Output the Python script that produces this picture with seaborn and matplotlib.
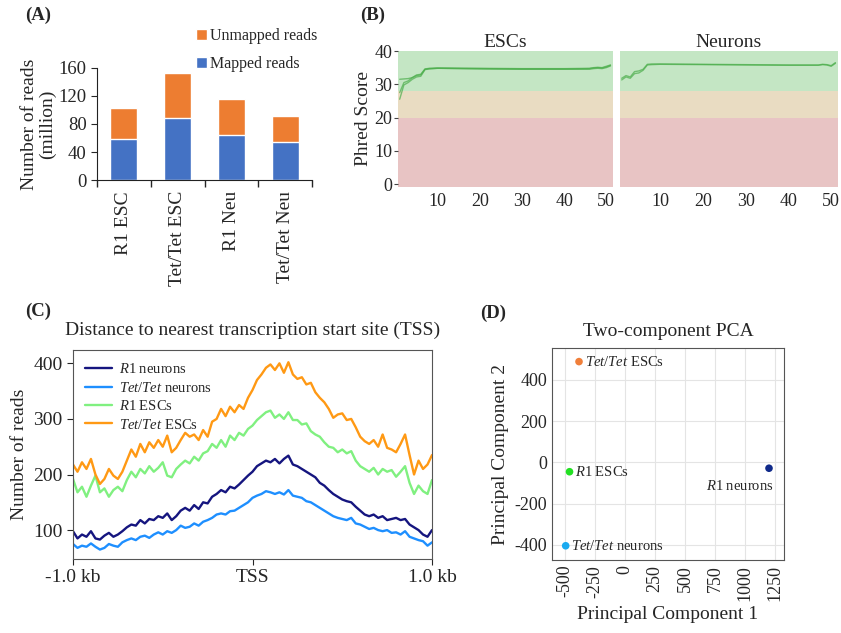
import numpy as np
import pandas as pd
import matplotlib
matplotlib.use("Agg")
import matplotlib.pyplot as plt
import seaborn as sns

sns.set_style("ticks")
plt.rcParams['font.family'] = ['Liberation Serif', 'DejaVu Serif']
plt.rcParams['mathtext.fontset'] = 'custom'
plt.rcParams['mathtext.it'] = 'Liberation Serif:italic'
plt.rcParams['mathtext.rm'] = 'Liberation Serif'
plt.rcParams['axes.unicode_minus'] = False

# ---- (A) read counts ----
samples = ["R1 ESC", "Tet/Tet ESC", "R1 Neu", "Tet/Tet Neu"]
total_reads = [103, 153, 116, 92]
mapped_reads = [59, 88, 65, 54]

# ---- (B) per-base quality ----
qpos = [1, 2, 3, 4, 5, 6, 7, 8, 10, 20, 30, 40, 46, 47, 48, 49, 50, 51]
esc_q1 = [31.5, 31.6, 31.7, 32.0, 32.6, 32.8, 34.5, 34.7, 34.8, 34.7, 34.6, 34.6, 34.7, 34.9, 35.0, 34.9, 35.2, 35.7]
esc_q2 = [25.5, 29.8, 30.5, 31.5, 32.2, 32.4, 34.4, 34.6, 34.8, 34.6, 34.5, 34.5, 34.5, 34.7, 34.8, 34.7, 35.0, 35.5]
esc_q3 = [27.5, 30.5, 31.0, 32.0, 32.8, 33.0, 34.6, 34.8, 34.9, 34.8, 34.7, 34.7, 34.8, 35.0, 35.1, 35.0, 35.4, 35.8]
neu_q1 = [31.8, 32.6, 32.2, 33.8, 34.0, 34.5, 36.0, 36.1, 36.1, 36.0, 35.9, 35.8, 35.8, 35.8, 36.0, 35.9, 35.6, 36.5]
neu_q2 = [31.3, 32.2, 31.8, 33.2, 33.4, 34.2, 35.8, 35.9, 36.0, 35.9, 35.8, 35.7, 35.7, 35.7, 35.9, 35.8, 35.4, 36.3]

# ---- (C) TSS profile ----
tss_bins = np.arange(-1000, 1001, 25)
tet_esc = [218, 205, 222, 210, 228, 200, 183, 192, 210, 198, 192, 205, 225, 245, 232, 255, 240, 258, 248, 262,
           250, 270, 240, 248, 262, 275, 268, 272, 262, 280, 268, 295, 300, 318, 305, 322, 312, 325, 318, 338,
           352, 370, 380, 392, 398, 388, 400, 383, 402, 380, 372, 375, 362, 365, 348, 338, 330, 318, 302, 308,
           310, 298, 300, 285, 268, 260, 255, 262, 250, 272, 248, 245, 240, 255, 272, 235, 200, 225, 210, 218, 235]
r1_esc = [192, 168, 178, 160, 180, 198, 168, 175, 160, 172, 178, 170, 190, 205, 195, 210, 202, 215, 205, 212,
          222, 198, 195, 210, 218, 225, 220, 232, 225, 238, 242, 255, 248, 262, 250, 270, 262, 275, 270, 282,
          288, 298, 305, 312, 315, 302, 308, 300, 312, 298, 298, 290, 292, 278, 272, 268, 258, 250, 248, 240,
          245, 238, 242, 225, 215, 210, 205, 212, 200, 210, 205, 208, 196, 205, 215, 185, 165, 180, 170, 165, 190]
r1_neu = [98, 85, 92, 88, 98, 85, 83, 90, 95, 88, 92, 98, 105, 110, 108, 118, 112, 120, 118, 125,
          122, 130, 118, 125, 135, 140, 135, 145, 138, 150, 148, 160, 165, 172, 168, 178, 175, 182, 190, 198,
          205, 215, 220, 225, 222, 228, 220, 228, 234, 218, 215, 210, 205, 200, 195, 185, 180, 172, 165, 160,
          155, 152, 150, 142, 135, 128, 125, 128, 122, 125, 118, 120, 122, 118, 120, 110, 105, 100, 92, 88, 100]
tet_neu = [75, 68, 72, 70, 76, 70, 65, 68, 75, 72, 70, 78, 82, 85, 82, 88, 90, 86, 92, 96,
           92, 98, 95, 100, 108, 104, 106, 112, 108, 115, 118, 122, 128, 130, 128, 134, 135, 140, 145, 150,
           158, 162, 165, 170, 168, 165, 168, 164, 172, 162, 160, 158, 152, 150, 145, 140, 135, 130, 125, 122,
           120, 118, 122, 112, 110, 106, 102, 104, 100, 98, 100, 95, 96, 92, 98, 88, 85, 82, 80, 72, 78]

# ---- (D) PCA ----
pca_labels = ["$\\mathit{Tet/Tet}$ ESCs", "$\\mathit{R1}$ ESCs", "$\\mathit{Tet/Tet}$ neurons", "$\\mathit{R1}$ neurons"]
pc1 = [-383, -462, -494, 1200]
pc2 = [489, -45, -404, -28]

W, H = 841, 633
fig = plt.figure(figsize=(W / 100, H / 100), dpi=100)


def box(l, t, r, b):
    return fig.add_axes([l / W, 1 - b / H, (r - l) / W, (b - t) / H])


# ================= (A) =================
axA = box(97, 68, 312, 180)
dfA = pd.DataFrame({"sample": samples, "total": total_reads, "mapped": mapped_reads})
sns.barplot(data=dfA, x="sample", y="total", color="#ED7D31", width=0.5, saturation=1,
            ax=axA, label="Unmapped reads")
sns.barplot(data=dfA, x="sample", y="mapped", color="#4472C4", width=0.5, saturation=1,
            ax=axA, label="Mapped reads")
axA.set_ylim(0, 160)
axA.set_xlim(-0.5, 3.5)
axA.set_yticks([0, 40, 80, 120, 160])
axA.set_xlabel("")
axA.set_ylabel("Number of reads\n(million)", fontsize=14, linespacing=1.0, labelpad=2)
axA.tick_params(axis="x", which="major", length=0, labelsize=14, rotation=90, pad=8)
axA.set_xticks([-0.5, 0.5, 1.5, 2.5, 3.5], minor=True)
axA.tick_params(axis="x", which="minor", length=5, width=1)
axA.tick_params(axis="y", labelsize=13.5, length=4)
sns.despine(ax=axA)
for s in ["left", "bottom"]:
    axA.spines[s].set_color("#222222")
h, l = axA.get_legend_handles_labels()
axA.legend(h, l, loc="lower left", bbox_to_anchor=(0.43, 0.91), frameon=False, fontsize=11.5,
           handlelength=0.7, handleheight=0.7, handletextpad=0.2, labelspacing=0.75,
           borderaxespad=0)
fig.text(25 / W, 1 - 15 / H, "(A)", fontsize=13.5, fontweight="bold", va="center")

# ================= (B) =================
bands = [(-5, 20, "#e8c4c4"), (20, 28, "#e9dcc2"), (28, 40, "#c4e6c4")]


def quality_panel(ax, curves, title, show_y):
    for lo, hi, c in bands:
        ax.axhspan(lo, hi, color=c, lw=0, zorder=0)
    frames = []
    for i, q in enumerate(curves):
        frames.append(pd.DataFrame({"pos": qpos, "q": q, "run": i}))
    d = pd.concat(frames)
    sns.lineplot(data=d, x="pos", y="q", units="run", estimator=None, color="#4cae4c",
                 alpha=0.7, lw=1.0, ax=ax)
    ax.set_xlim(0.6, 51.6)
    ax.set_ylim(-0.9, 40)
    ax.set_xticks([10, 20, 30, 40, 50])
    ax.set_yticks([0, 10, 20, 30, 40])
    ax.set_xlabel("")
    ax.set_ylabel("Phred Score" if show_y else "", fontsize=14, labelpad=2)
    for s in ax.spines.values():
        s.set_visible(False)
    ax.tick_params(axis="x", length=0, labelsize=13, pad=4)
    ax.tick_params(axis="y", length=3, color="#444444", labelsize=13, pad=1)
    if not show_y:
        ax.tick_params(axis="y", left=False, labelleft=False)
    ax.set_title(title, fontsize=14, pad=3)


axB1 = box(398, 51, 613, 187)
quality_panel(axB1, [esc_q1, esc_q2, esc_q3], "ESCs", True)
axB2 = box(620, 51, 838, 187)
quality_panel(axB2, [neu_q1, neu_q2], "Neurons", False)
fig.text(360 / W, 1 - 15 / H, "(B)", fontsize=13.5, fontweight="bold", va="center")

# ================= (C) =================
axC = box(73, 350, 432, 559)
dfC = pd.DataFrame({
    "pos": np.tile(tss_bins, 4),
    "reads": r1_neu + tet_neu + r1_esc + tet_esc,
    "group": ["$\\mathit{R1}$ neurons"] * len(tss_bins) + ["$\\mathit{Tet/Tet}$ neurons"] * len(tss_bins)
             + ["$\\mathit{R1}$ ESCs"] * len(tss_bins) + ["$\\mathit{Tet/Tet}$ ESCs"] * len(tss_bins),
})
sns.lineplot(data=dfC, x="pos", y="reads", hue="group", lw=1.7, ax=axC,
             palette=["#15157f", "#1e8fff", "#80f080", "#ff9914"])
axC.set_xlim(-1000, 1000)
axC.set_ylim(48, 424)
axC.set_xticks([-1000, 0, 1000])
axC.set_xticklabels(["-1.0 kb", "TSS", "1.0 kb"])
axC.set_yticks([100, 200, 300, 400])
axC.set_xlabel("")
axC.set_ylabel("Number of reads", fontsize=14)
axC.tick_params(labelsize=14, length=4)
for s in axC.spines.values():
    s.set_color("#555555")
axC.legend(loc="upper left", frameon=False, fontsize=10.5, handlelength=1.8,
           labelspacing=0.3, borderaxespad=0.45, handletextpad=0.5)
axC.set_title("Distance to nearest transcription start site (TSS)", fontsize=14, pad=11)
fig.text(25 / W, 1 - 311 / H, "(C)", fontsize=13.5, fontweight="bold", va="center")

# ================= (D) =================
axD = box(552, 348, 784, 560)
dfD = pd.DataFrame({"pc1": pc1, "pc2": pc2, "lab": pca_labels})
sns.scatterplot(data=dfD, x="pc1", y="pc2", hue="lab", s=30, edgecolor="none", legend=False,
                palette=["#f07f3a", "#22e022", "#1aaaf0", "#102a8a"], ax=axD, zorder=3)
offsets = [(4, 0, "left", "center"), (4, 0, "left", "center"), (4, 0, "left", "center"),
           (-21, -13, "center", "center")]
for x, y, t, (dx, dy, ha, va) in zip(pc1, pc2, pca_labels, offsets):
    axD.annotate(t, (x, y), xytext=(dx, dy), textcoords="offset points", ha=ha, va=va, fontsize=10.5)
axD.set_xlim(-608, 1325)
axD.set_ylim(-473, 555)
axD.set_xticks([-500, -250, 0, 250, 500, 750, 1000, 1250])
axD.set_yticks([-400, -200, 0, 200, 400])
axD.grid(True, color="#e4e4e4", lw=0.8)
axD.set_axisbelow(True)
axD.tick_params(axis="x", rotation=90, length=0, labelsize=13)
axD.tick_params(axis="y", length=0, labelsize=13)
for s in axD.spines.values():
    s.set_color("#555555")
axD.set_xlabel("Principal Component 1", fontsize=14)
axD.set_ylabel("Principal Component 2", fontsize=14)
axD.set_title("Two-component PCA", fontsize=14, pad=9)
fig.text(480 / W, 1 - 313 / H, "(D)", fontsize=13.5, fontweight="bold", va="center")

fig.savefig("out.png", dpi=100)
